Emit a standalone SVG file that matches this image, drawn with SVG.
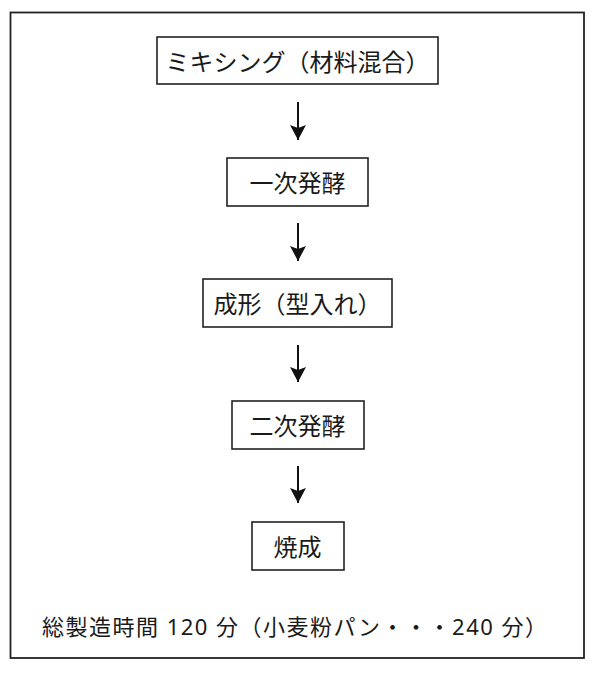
<svg xmlns="http://www.w3.org/2000/svg" width="600" height="675" viewBox="0 0 600 675">
<style>
.frame{fill:#fff;stroke:#222;stroke-width:1.8}
.box{fill:#fff;stroke:#222;stroke-width:1.6}
.lbl{font-family:"Noto Sans","Noto Sans CJK JP",sans-serif;font-size:24px;fill:#1a1a1a;text-anchor:middle}
.note{font-family:"Noto Sans","Noto Sans CJK JP",sans-serif;font-size:22px;fill:#1a1a1a}
.conn{stroke:#111;stroke-width:2;fill:none;marker-end:url(#ah)}
</style>
<defs>
<marker id="ah" viewBox="0 0 16 16" markerWidth="16" markerHeight="16" refX="15" refY="8" orient="auto" markerUnits="userSpaceOnUse">
<path d="M0,0 L15,8 L0,16 L3,8 Z" fill="#111"/>
</marker>
</defs>
<rect width="600" height="675" fill="#fff"/>
<rect class="frame" x="10.5" y="12.5" width="573.5" height="645.5"/>
<g id="n1"><rect class="box" x="157" y="37" width="281" height="47"/><text class="lbl" x="297.5" y="71">ミキシング（材料混合）</text></g>
<g id="n2"><rect class="box" x="227" y="158" width="141" height="48"/><text class="lbl" x="297.5" y="192">一次発酵</text></g>
<g id="n3"><rect class="box" x="203" y="279" width="189" height="48"/><text class="lbl" x="297.5" y="313">成形（型入れ）</text></g>
<g id="n4"><rect class="box" x="232" y="401" width="132" height="48"/><text class="lbl" x="297.5" y="435">二次発酵</text></g>
<g id="n5"><rect class="box" x="252" y="522" width="92" height="48"/><text class="lbl" x="297.5" y="556">焼成</text></g>
<g id="connectors">
<line class="conn" x1="298" y1="102" x2="298" y2="140"/>
<line class="conn" x1="298" y1="223" x2="298" y2="261"/>
<line class="conn" x1="298" y1="345" x2="298" y2="382"/>
<line class="conn" x1="298" y1="466" x2="298" y2="503"/>
</g>
<g id="note"><text class="note" x="42" y="635" textLength="505" lengthAdjust="spacing">総製造時間 120 分（小麦粉パン・・・240 分）</text></g>
</svg>
